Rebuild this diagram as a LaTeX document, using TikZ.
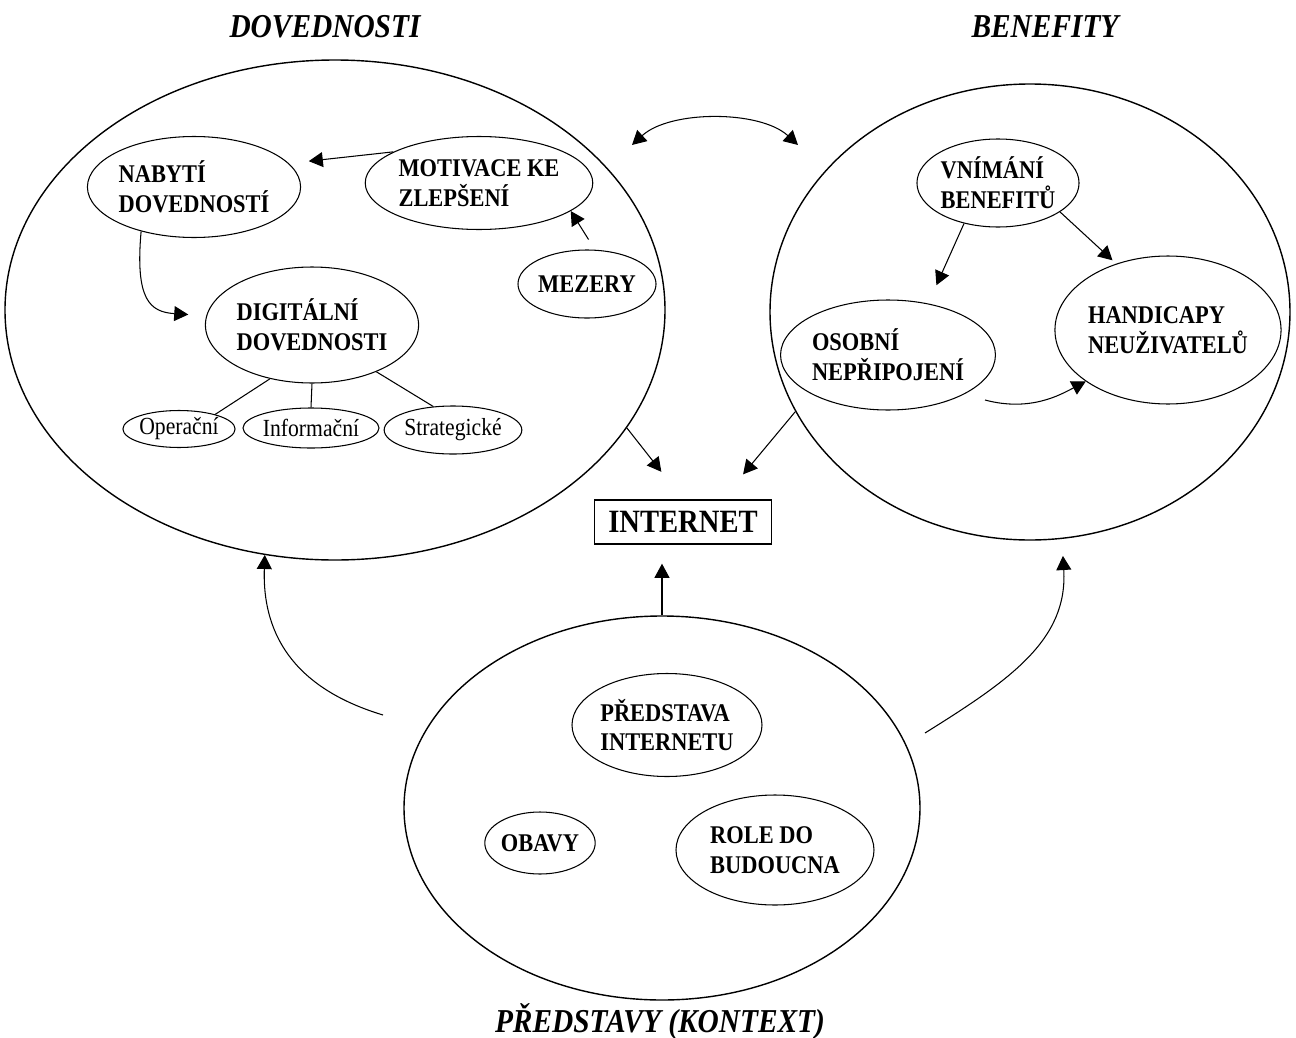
\documentclass[tikz,border=0pt]{standalone}
\usepackage{fontspec}
\setmainfont{Liberation Serif}[FakeStretch=0.88]
\usetikzlibrary{shapes.geometric,arrows.meta}
\begin{document}
\begin{tikzpicture}[x=0.02cm,y=-0.02cm,
  sz/.style 2 args={minimum width=#1*0.02cm, minimum height=#2*0.02cm},
  ebig/.style={draw, ellipse, line width=0.8pt, inner sep=0pt},
  eitem/.style={draw, ellipse, line width=0.6pt, inner sep=0pt, align=left,
    font=\fontsize{14.5}{17}\selectfont\bfseries},
  esub/.style={draw, ellipse, line width=0.6pt, inner sep=0pt,
    font=\fontsize{14}{16}\selectfont},
  ttl/.style={font=\fontsize{19}{22}\selectfont\bfseries\itshape},
  arr/.style={-{Triangle[length=8pt,width=8.5pt]}, line width=0.6pt},
  arrboth/.style={{Triangle[length=8pt,width=8.5pt]}-{Triangle[length=8pt,width=8.5pt]}, line width=0.6pt},
  plain/.style={line width=0.6pt}]
\useasboundingbox (0,0) rectangle (1296,1038);
% big ellipses
\node[ebig, sz={660}{500}] (L) at (335,310) {};
\node[ebig, sz={520}{456}] (R) at (1030,312) {};
\node[ebig, sz={516}{384}] (B) at (662,808) {};
% titles
\node[ttl] (tD) at (325,27) {DOVEDNOSTI};
\node[ttl] (tB) at (1045,27) {BENEFITY};
\node[ttl] (tP) at (660,1022) {PŘEDSTAVY (KONTEXT)};
% left inner
\node[eitem, sz={182}{101}] (nab) at (194,187) {NABYTÍ\\DOVEDNOSTÍ};
\node[eitem, sz={192}{93}] (mot) at (479,183) {MOTIVACE KE\\ZLEPŠENÍ};
\node[eitem, sz={120}{68}] (mez) at (587,284) {MEZERY};
\node[eitem, sz={203}{116}] (dig) at (312,325) {DIGITÁLNÍ\\DOVEDNOSTI};
\node[esub, sz={108}{37}] (op) at (179,429) {Operační};
\node[esub, sz={123}{40}] (inf) at (311,428) {Informační};
\node[esub, sz={127}{48}] (str) at (453,430) {Strategické};
% right inner
\node[eitem, sz={148}{88}] (vni) at (998,183) {VNÍMÁNÍ\\BENEFITŮ};
\node[eitem, sz={220}{148}] (han) at (1168,330) {HANDICAPY\\NEUŽIVATELŮ};
\node[eitem, sz={192}{110}] (oso) at (888,355) {OSOBNÍ\\NEPŘIPOJENÍ};
% bottom inner
\node[eitem, sz={190}{103}] (pre) at (667,725) {PŘEDSTAVA\\INTERNETU};
\node[eitem, sz={104}{62}] (oba) at (540,843) {OBAVY};
\node[eitem, sz={198}{110}] (rol) at (775,850) {ROLE DO\\BUDOUCNA};
% internet
\node[draw, line width=0.8pt, inner sep=0pt, sz={177}{44},
  font=\fontsize{18.5}{20}\selectfont\bfseries] (int) at (683,522) {INTERNET};
% free ends
\coordinate (o1) at (985,400);
\coordinate (cl) at (383,715);
\coordinate (cr) at (925,733);
\coordinate (tl) at (632,145);
\coordinate (tr) at (798,145);
% connectors, left
\draw[arr, shorten >=0.4cm] (mot.160) -- (nab.14);
\draw[arr, shorten <=0.24cm] (mez.77) -- (mot.-17);
\draw[arr, shorten >=0.36cm] (nab.-140) .. controls (135,300) and (150,312) .. (dig.175);
\draw[plain] (dig.-128) -- (op.22);
\draw[plain] (dig.south) -- (inf.north);
\draw[plain] (dig.-36) -- (str.130);
% connectors, right
\draw[arr, shorten >=0.4cm] (vni.-130) -- (oso.52);
\draw[arr, shorten >=0.1cm] (vni.-25) -- (han.128);
\draw[arr] (o1) .. controls (1030,412) and (1060,395) .. (han.212);
% to internet
\draw[arr, shorten >=0.7cm] (L.-22) -- (int.90);
\draw[arr, shorten >=0.65cm] (R.203) -- (int.30);
\draw[arr, shorten >=0.38cm] (B.north) -- (B.north |- int.south);
% big curves
\draw[arr] (cl) .. controls (300,690) and (262,640) .. (L.-106);
\draw[arr, shorten >=0.34cm] (cr) .. controls (1010,680) and (1068,640) .. (R.-82);
\draw[arrboth] (tl) .. controls (670,110) and (760,110) .. (tr);
\end{tikzpicture}
\end{document}
